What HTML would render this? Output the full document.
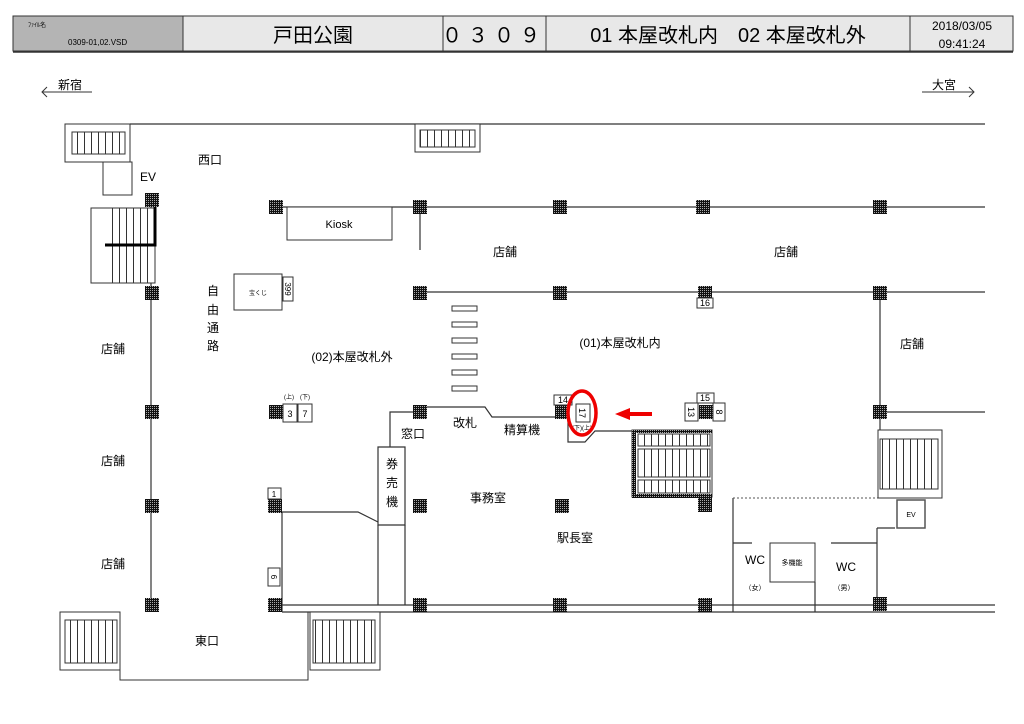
<!DOCTYPE html>
<html><head><meta charset="utf-8"><style>
html,body{margin:0;padding:0;background:#fff;}
svg{display:block;font-family:"Liberation Sans","Noto Sans CJK JP",sans-serif;}
</style></head><body>
<svg width="1024" height="724" viewBox="0 0 1024 724" xmlns="http://www.w3.org/2000/svg">
<defs>
<pattern id="pp" width="2" height="2" patternUnits="userSpaceOnUse"><rect width="2" height="2" fill="#111"/><rect width="1" height="1" fill="#aaa"/></pattern>
<pattern id="st" width="7" height="10" patternUnits="userSpaceOnUse"><line x1="0.5" y1="0" x2="0.5" y2="10" stroke="#333" stroke-width="1"/></pattern>
</defs>
<!-- header -->
<rect x="13" y="16" width="170" height="35" fill="#b4b4b4" stroke="#333"/>
<rect x="183" y="16" width="830" height="35" fill="#e8e8e8" stroke="#333"/>
<line x1="443" y1="16" x2="443" y2="51" stroke="#333"/>
<line x1="546" y1="16" x2="546" y2="51" stroke="#333"/>
<line x1="910" y1="16" x2="910" y2="51" stroke="#333"/>
<line x1="13" y1="52" x2="1013" y2="52" stroke="#333" stroke-width="1.5"/>
<text x="28" y="27" font-size="6">ﾌｧｲﾙ名</text>
<text x="68" y="45" font-size="8">0309-01,02.VSD</text>
<text x="313" y="42" font-size="20" text-anchor="middle">戸田公園</text>
<text x="494" y="42" font-size="20" text-anchor="middle" letter-spacing="6">０３０９</text>
<text x="728" y="42" font-size="20" text-anchor="middle">01 本屋改札内　02 本屋改札外</text>
<text x="962" y="30" font-size="12" text-anchor="middle">2018/03/05</text>
<text x="962" y="48" font-size="12" text-anchor="middle">09:41:24</text>
<!-- direction arrows -->
<g stroke="#333" fill="none">
<path d="M92 92 H42 M47 87 L42 92 L47 97"/>
<path d="M922 92 H974 M969 87 L974 92 L969 97"/>
</g>
<text x="58" y="89" font-size="12">新宿</text>
<text x="932" y="89" font-size="12">大宮</text>
<!-- walls -->
<g stroke="#333" fill="none" stroke-width="1.2">
<path d="M130 124 H985"/>
<path d="M276 207 H985"/>
<path d="M420 292 H985"/>
<path d="M151 200 V605"/>
<path d="M880 292 V430"/>
<path d="M880 412 H985"/>
<path d="M276 605 H995"/>
<path d="M282 612 H995"/>
<path d="M282 512 V612"/>
<path d="M282 512 H358 L378 522"/>
<path d="M420 207 V250"/>
<path d="M420 407 H485 L492 417 H555"/>
<path d="M420 412 H390 V447"/>
<path d="M378 447 H405 V525 H378 Z"/>
<path d="M378 525 V605 M405 525 V605"/>
<path d="M568 420 V442 H585 L595 431 H633"/>
<path d="M733 498 V612"/>
<path d="M733 543 H752"/>
<path d="M815 582 V612"/>
<path d="M831 543 H877"/>
<path d="M877 528 V605"/>
<path d="M877 528 H895"/>
</g>
<path d="M733 498 H878" stroke="#555" stroke-dasharray="2 2" fill="none"/>
<!-- Top-left stairs -->
<rect x="65" y="124" width="65" height="38" fill="#fff" stroke="#333"/>
<rect x="72" y="132" width="53" height="22" fill="url(#st)" stroke="#333"/>
<rect x="103" y="162" width="29" height="33" fill="#fff" stroke="#333"/>
<rect x="91" y="208" width="64" height="75" fill="#fff" stroke="#333"/>
<rect x="112" y="208" width="42" height="75" fill="url(#st)" stroke="none"/>
<path d="M155 205 V245 H105" stroke="#000" stroke-width="3" fill="none"/>
<!-- top-center stair -->
<rect x="415" y="124" width="65" height="28" fill="#fff" stroke="#333"/>
<rect x="420" y="130" width="55" height="17" fill="url(#st)" stroke="#333"/>
<!-- bottom stairs -->
<path d="M120 612 V680 H308 V612" stroke="#333" fill="none"/>
<rect x="60" y="612" width="60" height="58" fill="#fff" stroke="#333"/>
<rect x="65" y="620" width="52" height="43" fill="url(#st)" stroke="#333"/>
<rect x="310" y="612" width="70" height="58" fill="#fff" stroke="#333"/>
<rect x="313" y="620" width="62" height="43" fill="url(#st)" stroke="#333"/>
<!-- escalators center -->
<rect x="632" y="430" width="80" height="67" fill="#fff" stroke="#333"/>
<rect x="632" y="430" width="80" height="3" fill="url(#pp)"/>
<rect x="632" y="494" width="80" height="4" fill="url(#pp)"/>
<rect x="632" y="430" width="4" height="68" fill="url(#pp)"/>
<rect x="638" y="434" width="72" height="12" fill="url(#st)" stroke="#333"/>
<rect x="638" y="449" width="72" height="28" fill="url(#st)" stroke="#333"/>
<rect x="638" y="480" width="72" height="13" fill="url(#st)" stroke="#333"/>
<!-- right stairs -->
<rect x="878" y="430" width="64" height="68" fill="#fff" stroke="#333"/>
<rect x="880" y="439" width="58" height="50" fill="url(#st)" stroke="#333"/>
<rect x="897" y="500" width="28" height="28" fill="#fff" stroke="#555" stroke-width="1.5"/>
<text x="911" y="517" font-size="7" text-anchor="middle">EV</text>
<!-- boxes -->
<rect x="287" y="207" width="105" height="33" fill="#fff" stroke="#333"/>
<text x="339" y="228" font-size="11" text-anchor="middle">Kiosk</text>
<rect x="234" y="274" width="48" height="36" fill="#fff" stroke="#333"/>
<text x="258" y="295" font-size="6" text-anchor="middle">宝くじ</text>
<rect x="283" y="277" width="10" height="24" fill="#fff" stroke="#333"/>
<text x="288" y="289" font-size="8" text-anchor="middle" transform="rotate(90 288 289)" dy="3">399</text>
<rect x="770" y="543" width="45" height="39" fill="#fff" stroke="#333"/>
<text x="792" y="565" font-size="7" text-anchor="middle">多機能</text>
<!-- crosswalk -->
<g fill="#fff" stroke="#333">
<rect x="452" y="306" width="25" height="5"/><rect x="452" y="322" width="25" height="5"/>
<rect x="452" y="338" width="25" height="5"/><rect x="452" y="354" width="25" height="5"/>
<rect x="452" y="370" width="25" height="5"/><rect x="452" y="386" width="25" height="5"/>
</g>
<!-- pillars -->
<g fill="url(#pp)">
<rect x="145" y="193" width="14" height="14"/>
<rect x="269" y="200" width="14" height="14"/><rect x="413" y="200" width="14" height="14"/>
<rect x="553" y="200" width="14" height="14"/><rect x="696" y="200" width="14" height="14"/>
<rect x="873" y="200" width="14" height="14"/>
<rect x="145" y="286" width="14" height="14"/><rect x="413" y="286" width="14" height="14"/>
<rect x="553" y="286" width="14" height="14"/><rect x="698" y="286" width="14" height="14"/>
<rect x="873" y="286" width="14" height="14"/>
<rect x="145" y="405" width="14" height="14"/><rect x="269" y="405" width="14" height="14"/>
<rect x="413" y="405" width="14" height="14"/><rect x="555" y="405" width="13" height="14"/>
<rect x="699" y="405" width="14" height="14"/><rect x="873" y="405" width="14" height="14"/>
<rect x="145" y="499" width="14" height="14"/><rect x="268" y="499" width="14" height="14"/>
<rect x="413" y="499" width="14" height="14"/><rect x="555" y="499" width="14" height="14"/>
<rect x="698" y="498" width="14" height="14"/>
<rect x="145" y="598" width="14" height="14"/><rect x="268" y="598" width="14" height="14"/>
<rect x="413" y="598" width="14" height="14"/><rect x="553" y="598" width="14" height="14"/>
<rect x="698" y="598" width="14" height="14"/><rect x="873" y="597" width="14" height="14"/>
</g>
<!-- numbered boxes -->
<g fill="#fff" stroke="#333">
<rect x="697" y="298" width="16" height="10"/>
<rect x="283" y="404" width="14" height="18"/><rect x="298" y="404" width="14" height="18"/>
<rect x="268" y="488" width="13" height="11"/>
<rect x="268" y="568" width="12" height="18"/>
<rect x="554" y="395" width="18" height="10"/>
<rect x="576" y="404" width="14" height="18"/>
<rect x="697" y="393" width="17" height="10"/>
<rect x="685" y="403" width="13" height="18"/>
<rect x="713" y="403" width="12" height="18"/>
</g>
<g font-size="9" text-anchor="middle">
<text x="705" y="306">16</text>
<text x="290" y="417">3</text><text x="305" y="417">7</text>
<text x="274" y="497" font-size="8">1</text>
<text x="274" y="580" font-size="8" transform="rotate(90 274 577)">6</text>
<text x="563" y="403">14</text>
<text x="583" y="417" transform="rotate(90 583 413)">17</text>
<text x="705" y="401">15</text>
<text x="691" y="415" transform="rotate(90 691 412)">13</text>
<text x="719" y="415" transform="rotate(90 719 412)">8</text>
<text x="289" y="399" font-size="6">(上)</text><text x="305" y="399" font-size="6">(下)</text>
<text x="582" y="430" font-size="6">(下)(上)</text>
</g>
<!-- red marks -->
<ellipse cx="582" cy="413" rx="14" ry="22" fill="none" stroke="#e00" stroke-width="3.5"/>
<path d="M652 414 H628" stroke="#e00" stroke-width="4"/>
<path d="M615 414 L630 408 L630 420 Z" fill="#e00"/>
<!-- labels -->
<g font-size="12" text-anchor="middle">
<text x="210" y="164">西口</text>
<text x="148" y="181">EV</text>
<text x="113" y="353">店舗</text><text x="113" y="465">店舗</text><text x="113" y="568">店舗</text>
<text x="505" y="256">店舗</text><text x="786" y="256">店舗</text><text x="912" y="348">店舗</text>
<text x="352" y="361">(02)本屋改札外</text>
<text x="620" y="347">(01)本屋改札内</text>
<text x="465" y="427">改札</text>
<text x="522" y="434">精算機</text>
<text x="413" y="438">窓口</text>
<text x="488" y="502">事務室</text>
<text x="575" y="542">駅長室</text>
<text x="207" y="645">東口</text>
<text x="755" y="564">WC</text><text x="846" y="571">WC</text>
<text x="755" y="590" font-size="7">（女）</text><text x="844" y="590" font-size="7">（男）</text>
<text x="213" y="295">自</text><text x="213" y="314">由</text><text x="213" y="332">通</text><text x="213" y="350">路</text>
<text x="392" y="468">券</text><text x="392" y="487">売</text><text x="392" y="506">機</text>
</g>
</svg>
</body></html>
